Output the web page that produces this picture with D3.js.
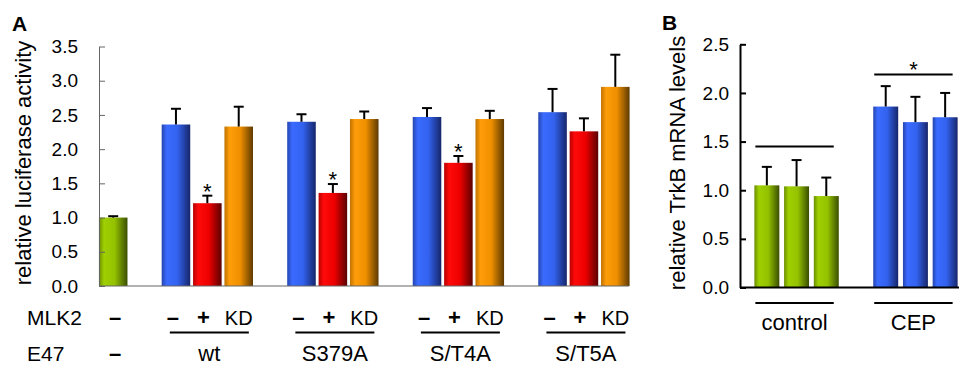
<!DOCTYPE html>
<html>
<head>
<meta charset="utf-8">
<script src="https://cdn.jsdelivr.net/npm/d3@7"></script>
<style>
  body { margin: 0; background: #fff; }
  svg { font-family: "Liberation Sans", Arial, sans-serif; }
</style>
</head>
<body>
<svg id="chart" width="959" height="365"></svg>
<script>
// ---- panel A data ----
let groupsA = ["wt", "S379A", "S/T4A", "S/T5A"];
let mlk2Labels = ["\u2013", "+", "KD"];
let ctrlValA = 1.00, ctrlErrA = 0.02;
let minusVals = [2.36, 2.40, 2.47, 2.54];
let minusErr  = [0.23, 0.11, 0.13, 0.34];
let plusVals  = [1.21, 1.36, 1.80, 2.26];
let plusErr   = [0.11, 0.13, 0.10, 0.19];
let kdVals    = [2.33, 2.44, 2.44, 2.91];
let kdErr     = [0.29, 0.11, 0.12, 0.47];
let plusStar  = [true, true, true, false];
let ticksA = [0, 0.5, 1, 1.5, 2, 2.5, 3, 3.5];

// ---- panel B data ----
let groupsB = ["control", "CEP"];
let controlB = [1.05, 1.04, 0.94];
let controlBErr = [0.19, 0.27, 0.19];
let cepB = [1.86, 1.70, 1.75];
let cepBErr = [0.21, 0.26, 0.25];
let bracketB = [1.45, 2.19];
let ticksB = [0, 0.5, 1, 1.5, 2, 2.5];

let palette = {
    green:  ["#6a8e00", "#9fd000", "#94c200", "#3a4e00"],
    blue:   ["#2545b0", "#3b6bff", "#3262ee", "#16266a"],
    red:    ["#b80000", "#ff0a0a", "#ee0000", "#5a0000"],
    orange: ["#c07200", "#ff9d0a", "#f09000", "#5e3a00"]
};

let svg = d3.select("#chart");
let defs = svg.append("defs");
Object.keys(palette).forEach(k => {
    let g = defs.append("linearGradient").attr("id", "g-" + k)
        .attr("x1", "0%").attr("x2", "100%").attr("y1", "0%").attr("y2", "0%");
    [0, 0.18, 0.55, 1].forEach((o, i) =>
        g.append("stop").attr("offset", o).attr("stop-color", palette[k][i]));
});

// ================= PANEL A =================
let yA = d3.scaleLinear().domain([0, 3.5]).range([286, 46.5]);
let xA = d3.scaleBand().domain(d3.range(17)).range([97.5, 631]).paddingInner(0.09).paddingOuter(0.045);

let barsA = [{slot: 0, v: ctrlValA, e: ctrlErrA, c: "green", star: false}];
groupsA.forEach((g, gi) => {
    let s = 2 + gi * 4;
    barsA.push({slot: s,     v: minusVals[gi], e: minusErr[gi], c: "blue",   star: false});
    barsA.push({slot: s + 1, v: plusVals[gi],  e: plusErr[gi],  c: "red",    star: plusStar[gi]});
    barsA.push({slot: s + 2, v: kdVals[gi],    e: kdErr[gi],    c: "orange", star: false});
});

let gA = svg.append("g");
gA.selectAll("rect.bar").data(barsA).join("rect")
    .attr("class", "bar")
    .attr("x", d => xA(d.slot))
    .attr("width", xA.bandwidth())
    .attr("y", d => yA(d.v))
    .attr("height", d => yA(0) - yA(d.v))
    .attr("fill", d => `url(#g-${d.c})`);

let errA = gA.selectAll("g.err").data(barsA).join("g").attr("class", "err")
    .attr("stroke", "#000").attr("stroke-width", 2);
errA.append("line")
    .attr("x1", d => xA(d.slot) + xA.bandwidth() / 2)
    .attr("x2", d => xA(d.slot) + xA.bandwidth() / 2)
    .attr("y1", d => yA(d.v)).attr("y2", d => yA(d.v + d.e));
errA.append("line")
    .attr("x1", d => xA(d.slot) + xA.bandwidth() / 2 - 5)
    .attr("x2", d => xA(d.slot) + xA.bandwidth() / 2 + 5)
    .attr("y1", d => yA(d.v + d.e)).attr("y2", d => yA(d.v + d.e));

gA.selectAll("text.star").data(barsA.filter(d => d.star)).join("text")
    .attr("class", "star")
    .attr("x", d => xA(d.slot) + xA.bandwidth() / 2)
    .attr("y", d => yA(d.v + d.e) + 3)
    .attr("text-anchor", "middle").attr("font-size", 22).text("*");

let axA = gA.append("g").attr("transform", "translate(99,0)")
    .call(d3.axisLeft(yA).tickValues(ticksA).tickFormat(d3.format(".1f"))
        .tickSizeInner(-6).tickSizeOuter(0).tickPadding(21));
axA.select(".domain").attr("stroke", "#666");
axA.selectAll(".tick line").attr("stroke", "#666");
axA.selectAll(".tick text").attr("font-size", 19).attr("font-family", "Liberation Sans, Arial, sans-serif").attr("fill", "#000");

gA.append("line").attr("x1", 99).attr("x2", 629).attr("y1", yA(0)).attr("y2", yA(0))
    .attr("stroke", "#666").attr("stroke-width", 1.2);

gA.append("text").attr("transform", "translate(31,163) rotate(-90)")
    .attr("text-anchor", "middle").attr("font-size", 22).text("relative luciferase activity");
gA.append("text").attr("x", 12).attr("y", 31).attr("font-size", 21).attr("font-weight", "bold").text("A");

// MLK2 / E47 rows
let rowMLK = 325, rowE47 = 361;
gA.append("text").attr("x", 27).attr("y", rowMLK).attr("font-size", 21).text("MLK2");
gA.append("text").attr("x", 27).attr("y", rowE47).attr("font-size", 21).text("E47");
let ctrX = xA(0) + xA.bandwidth() / 2 + 2;
gA.append("text").attr("x", ctrX).attr("y", rowMLK).attr("text-anchor", "middle").attr("font-size", 22).attr("font-weight", "bold").text("\u2013");
gA.append("text").attr("x", ctrX).attr("y", rowE47).attr("text-anchor", "middle").attr("font-size", 22).attr("font-weight", "bold").text("\u2013");

groupsA.forEach((g, gi) => {
    let s = 2 + gi * 4;
    mlk2Labels.forEach((lab, li) => {
        let off = li === 0 ? -3 : (li === 1 ? -4 : 0);
        gA.append("text")
            .attr("x", xA(s + li) + xA.bandwidth() / 2 + off)
            .attr("y", rowMLK).attr("text-anchor", "middle")
            .attr("font-size", lab === "KD" ? 20 : 22)
            .attr("font-weight", lab === "KD" ? "normal" : "bold")
            .text(lab);
    });
    let c = xA(s + 1) + xA.bandwidth() / 2 + 2;
    gA.append("line").attr("x1", c - 39.5).attr("x2", c + 39.5)
        .attr("y1", 332.5).attr("y2", 332.5).attr("stroke", "#000").attr("stroke-width", 2);
    gA.append("text").attr("x", c).attr("y", rowE47).attr("text-anchor", "middle")
        .attr("font-size", 22).text(g);
});

// ================= PANEL B =================
let yB = d3.scaleLinear().domain([0, 2.5]).range([287.5, 44.3]);
let xB = d3.scaleBand().domain(d3.range(7)).range([752, 960]).paddingInner(0.16).paddingOuter(0.08);

let barsB = [];
controlB.forEach((v, i) => barsB.push({slot: i, v: v, e: controlBErr[i], c: "green"}));
cepB.forEach((v, i) => barsB.push({slot: 4 + i, v: v, e: cepBErr[i], c: "blue"}));

let gB = svg.append("g");
gB.selectAll("rect.bar").data(barsB).join("rect")
    .attr("class", "bar")
    .attr("x", d => xB(d.slot))
    .attr("width", xB.bandwidth())
    .attr("y", d => yB(d.v))
    .attr("height", d => yB(0) - yB(d.v))
    .attr("fill", d => `url(#g-${d.c})`);

let errB = gB.selectAll("g.err").data(barsB).join("g").attr("class", "err")
    .attr("stroke", "#000").attr("stroke-width", 2);
errB.append("line")
    .attr("x1", d => xB(d.slot) + xB.bandwidth() / 2)
    .attr("x2", d => xB(d.slot) + xB.bandwidth() / 2)
    .attr("y1", d => yB(d.v)).attr("y2", d => yB(d.v + d.e));
errB.append("line")
    .attr("x1", d => xB(d.slot) + xB.bandwidth() / 2 - 5)
    .attr("x2", d => xB(d.slot) + xB.bandwidth() / 2 + 5)
    .attr("y1", d => yB(d.v + d.e)).attr("y2", d => yB(d.v + d.e));

let axB = gB.append("g").attr("transform", "translate(740,0)")
    .call(d3.axisLeft(yB).tickValues(ticksB).tickFormat(d3.format(".1f"))
        .tickSizeInner(-6).tickSizeOuter(0).tickPadding(11));
axB.select(".domain").attr("stroke", "#000").attr("stroke-width", 2);
axB.selectAll(".tick line").attr("stroke", "#000").attr("stroke-width", 2);
axB.selectAll(".tick text").attr("font-size", 19).attr("font-family", "Liberation Sans, Arial, sans-serif").attr("fill", "#000");

gB.append("line").attr("x1", 740).attr("x2", 959).attr("y1", yB(0)).attr("y2", yB(0))
    .attr("stroke", "#000").attr("stroke-width", 2);

gB.append("text").attr("transform", "translate(685,163) rotate(-90)")
    .attr("text-anchor", "middle").attr("font-size", 22).text("relative TrkB mRNA levels");
gB.append("text").attr("x", 662).attr("y", 30).attr("font-size", 21).attr("font-weight", "bold").text("B");

groupsB.forEach((g, gi) => {
    let s = gi * 4;
    let x1 = xB(s) + 1, x2 = xB(s + 2) + xB.bandwidth() - 5;
    let c = (x1 + x2) / 2;
    gB.append("line").attr("x1", x1).attr("x2", x2)
        .attr("y1", yB(bracketB[gi])).attr("y2", yB(bracketB[gi]))
        .attr("stroke", "#000").attr("stroke-width", 2);
    gB.append("line").attr("x1", x1).attr("x2", x2)
        .attr("y1", 303).attr("y2", 303)
        .attr("stroke", "#000").attr("stroke-width", 2);
    gB.append("text").attr("x", c).attr("y", 330).attr("text-anchor", "middle")
        .attr("font-size", 22).text(g);
    if (gi === 1) {
        gB.append("text").attr("x", c).attr("y", yB(bracketB[gi]) + 3)
            .attr("text-anchor", "middle").attr("font-size", 22).text("*");
    }
});
</script>
</body>
</html>
